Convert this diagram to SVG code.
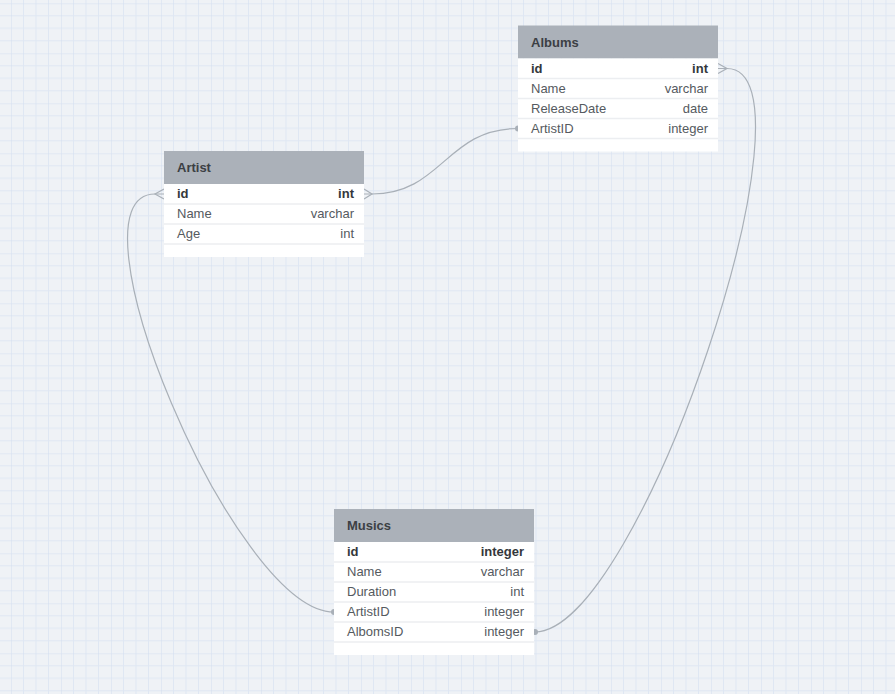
<svg xmlns="http://www.w3.org/2000/svg" width="895" height="694" viewBox="0 0 895 694">
  <defs>
    <pattern id="grid" patternUnits="userSpaceOnUse" x="11" y="3.3" width="50" height="50">
      <path d="M12.5 0V50M25 0V50M37.5 0V50M0 12.5H50M0 25H50M0 37.5H50" stroke="#dfe7f3" stroke-width="1" fill="none"/>
      <path d="M0 0V50M0 0H50" stroke="#d3def0" stroke-width="1" fill="none"/>
    </pattern>
    <style>
      .hdr { fill: #abb1b9; }
      .body { fill: #ffffff; }
      .sep { stroke: #eceef1; stroke-width: 1.5; }
      .title { font-family: "Liberation Sans", Arial, sans-serif; font-size: 13px; font-weight: bold; fill: #3c3f44; }
      .f { font-family: "Liberation Sans", Arial, sans-serif; font-size: 13px; fill: #555a60; }
      .pk { font-weight: bold; fill: #34373b; }
      .t { text-anchor: end; }
      .conn { fill: none; stroke: #a9b0b8; stroke-width: 1.2; }
      .dot { fill: #a9b0b8; }
    </style>
  </defs>
  <rect width="895" height="694" fill="#eff2f6"/>
  <rect width="895" height="694" fill="url(#grid)"/>

  <g id="connectors">
    <!-- Artist.id -> Albums.ArtistID -->
    <path class="conn" d="M364 194 L372 194 C442 194 446 128.5 518 128.5"/>
    <path class="conn" d="M364 189 L372 194 L364 199"/>
    <circle class="dot" cx="518" cy="128.5" r="3"/>
    <!-- Artist.id -> Musics.ArtistID -->
    <path class="conn" d="M164 194 L155 194 C60 194 234 612 334 612"/>
    <path class="conn" d="M164 189 L155 194 L164 199"/>
    <circle class="dot" cx="334" cy="612" r="3"/>
    <!-- Albums.id -> Musics.AlbomsID -->
    <path class="conn" d="M718 68.5 L727 68.5 C827 68.5 640 632 535 632"/>
    <path class="conn" d="M718 63.5 L727 68.5 L718 73.5"/>
    <circle class="dot" cx="535" cy="632" r="3"/>
  </g>

  <g id="node-artist">
    <rect class="hdr" x="164" y="151" width="200" height="33"/>
    <rect class="body" x="164" y="184" width="200" height="73"/>
    <line class="sep" x1="164" y1="204" x2="364" y2="204"/>
    <line class="sep" x1="164" y1="224" x2="364" y2="224"/>
    <line class="sep" x1="164" y1="244" x2="364" y2="244"/>
    <text class="title" x="177" y="172">Artist</text>
    <text class="f pk" x="177" y="197.5">id</text><text class="f pk t" x="354" y="197.5">int</text>
    <text class="f" x="177" y="217.5">Name</text><text class="f t" x="354" y="217.5">varchar</text>
    <text class="f" x="177" y="237.5">Age</text><text class="f t" x="354" y="237.5">int</text>
  </g>

  <g id="node-albums">
    <rect class="hdr" x="518" y="25.5" width="200" height="33"/>
    <rect class="body" x="518" y="58.5" width="200" height="93"/>
    <line class="sep" x1="518" y1="78.5" x2="718" y2="78.5"/>
    <line class="sep" x1="518" y1="98.5" x2="718" y2="98.5"/>
    <line class="sep" x1="518" y1="118.5" x2="718" y2="118.5"/>
    <line class="sep" x1="518" y1="138.5" x2="718" y2="138.5"/>
    <text class="title" x="531" y="46.5">Albums</text>
    <text class="f pk" x="531" y="72.5">id</text><text class="f pk t" x="708" y="72.5">int</text>
    <text class="f" x="531" y="92.5">Name</text><text class="f t" x="708" y="92.5">varchar</text>
    <text class="f" x="531" y="112.5">ReleaseDate</text><text class="f t" x="708" y="112.5">date</text>
    <text class="f" x="531" y="132.5">ArtistID</text><text class="f t" x="708" y="132.5">integer</text>
  </g>

  <g id="node-musics">
    <rect class="hdr" x="334" y="509" width="200" height="33"/>
    <rect class="body" x="334" y="542" width="200" height="113"/>
    <line class="sep" x1="334" y1="562" x2="534" y2="562"/>
    <line class="sep" x1="334" y1="582" x2="534" y2="582"/>
    <line class="sep" x1="334" y1="602" x2="534" y2="602"/>
    <line class="sep" x1="334" y1="622" x2="534" y2="622"/>
    <line class="sep" x1="334" y1="642" x2="534" y2="642"/>
    <text class="title" x="347" y="529.5">Musics</text>
    <text class="f pk" x="347" y="555.5">id</text><text class="f pk t" x="524" y="555.5">integer</text>
    <text class="f" x="347" y="575.5">Name</text><text class="f t" x="524" y="575.5">varchar</text>
    <text class="f" x="347" y="595.5">Duration</text><text class="f t" x="524" y="595.5">int</text>
    <text class="f" x="347" y="615.5">ArtistID</text><text class="f t" x="524" y="615.5">integer</text>
    <text class="f" x="347" y="635.5">AlbomsID</text><text class="f t" x="524" y="635.5">integer</text>
  </g>
</svg>
